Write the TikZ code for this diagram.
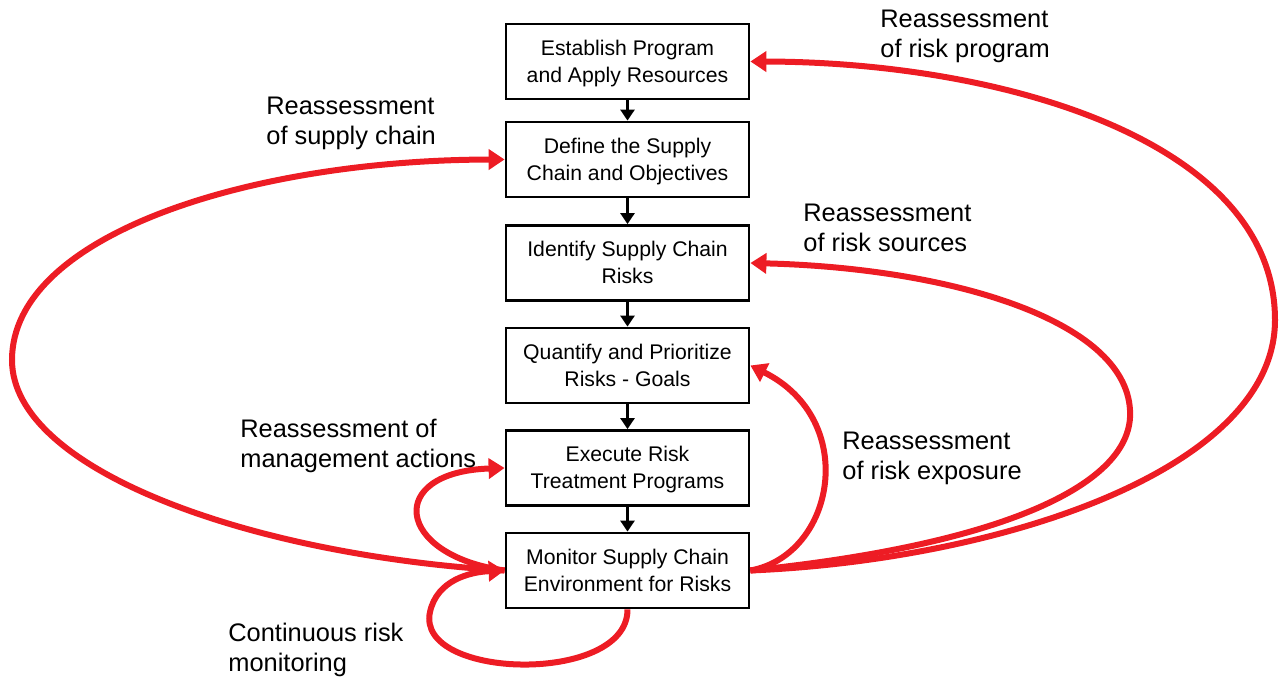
\documentclass[tikz,border=0pt]{standalone}
\usepackage{fontspec}
\setmainfont{Liberation Sans}
\usetikzlibrary{arrows.meta}
\definecolor{rred}{RGB}{237,28,36}
\begin{document}
\begin{tikzpicture}[x=0.5pt,y=-0.5pt,
 stepbox/.style={draw, line width=1.4pt, minimum width=121.5pt, minimum height=37.5pt, align=center, font=\fontsize{10.6}{13.5}\selectfont, inner sep=0pt, text depth=0.5pt},
 flow/.style={-{Triangle[length=5.5pt,width=7pt]}, line width=1.3pt},
 redloop/.style={rred, line width=3pt, -{Triangle[length=8pt,width=10pt]}},
 lab/.style={align=left, anchor=west, font=\fontsize{12.7}{15}\selectfont, inner sep=0pt}]
\useasboundingbox (0,0) rectangle (1281,678);
\node[stepbox] (b1) at (627.5,61.5) {Establish Program\\and Apply Resources};
\node[stepbox] (b2) at (627.5,159.5) {Define the Supply\\Chain and Objectives};
\node[stepbox] (b3) at (627.5,263) {Identify Supply Chain\\Risks};
\node[stepbox] (b4) at (627.5,365.5) {Quantify and Prioritize\\Risks - Goals};
\node[stepbox] (b5) at (627.5,468) {Execute Risk\\Treatment Programs};
\node[stepbox] (b6) at (627.5,570.5) {Monitor Supply Chain\\Environment for Risks};
\draw[flow] (b1) -- (b2);
\draw[flow] (b2) -- (b3);
\draw[flow] (b3) -- (b4);
\draw[flow] (b4) -- (b5);
\draw[flow] (b5) -- (b6);
% red loops
\draw[redloop] (b6.east) .. controls (1000,560) and (1275,470) .. (1275,320) .. controls (1275,140) and (1000,62) .. (b1.east);
\draw[redloop] (b6.east) .. controls (1000,545) and (1135,485) .. (1130,410) .. controls (1125,320) and (950,268) .. (b3.east);
\draw[redloop] (b6.east) .. controls (835,555) and (860,420) .. (b4.east);
\draw[redloop] (b6.west) .. controls (250,555) and (12,470) .. (12,360) .. controls (12,235) and (250,160) .. (b2.west);
\draw[redloop] (b6.west) .. controls (395,555) and (385,472) .. (b5.west);
\draw[redloop] (b6.south) .. controls (628,685) and (415,680) .. (430,612) .. controls (437,580) and (470,572) .. (b6.west);
% labels
\node[lab] (l1) at (880,36) {Reassessment\\of risk program};
\node[lab] (l2) at (266,123) {Reassessment\\of supply chain};
\node[lab] (l3) at (803,228) {Reassessment\\of risk sources};
\node[lab] (l4) at (240,446) {Reassessment of\\management actions};
\node[lab] (l5) at (842,458) {Reassessment\\of risk exposure};
\node[lab] (l6) at (228,650) {Continuous risk\\monitoring};
\end{tikzpicture}
\end{document}
